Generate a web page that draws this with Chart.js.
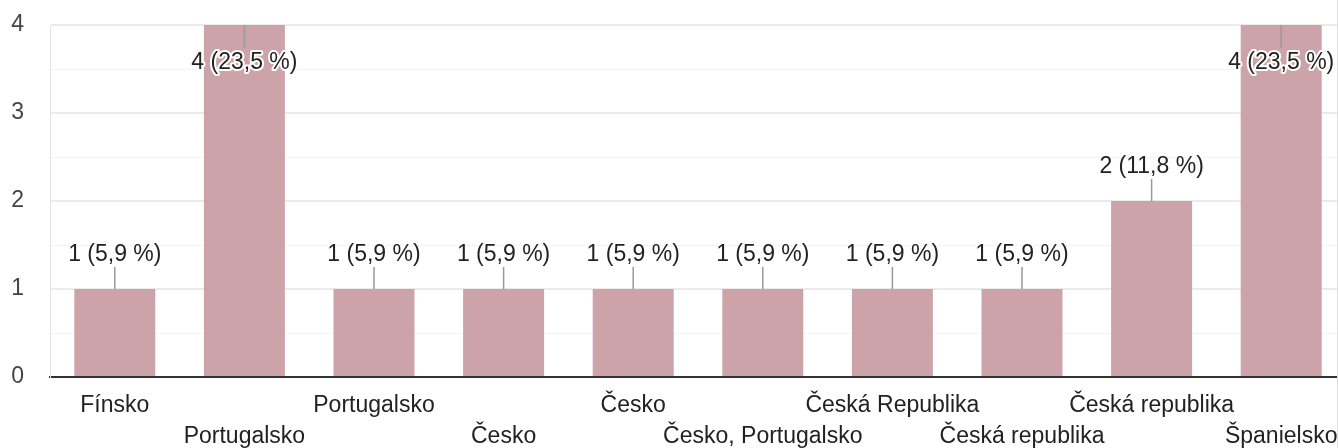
<!DOCTYPE html>
<html>
<head>
<meta charset="utf-8">
<script src="https://cdn.jsdelivr.net/npm/chart.js@4"></script>
<style>
  html, body { margin: 0; padding: 0; background: #fff; }
  #obal { width: 1338px; height: 448px; overflow: hidden; box-sizing: border-box; border-right: 1px solid #dedede; }
  canvas { display: block; }
</style>
</head>
<body>
<div id="obal">
  <canvas id="graf" width="1346" height="448"></canvas>
</div>
<script>
// --- Data ---
const krajiny = ["Fínsko", "Portugalsko", "Portugalsko", "Česko", "Česko", "Česko, Portugalsko",
  "Česká Republika", "Česká republika", "Česká republika", "Španielsko"];
const pocty = [1, 4, 1, 1, 1, 1, 1, 1, 2, 4];
const hodnotyY = [0, 1, 2, 3, 4];

const spolu = pocty.reduce((a, b) => a + b, 0);
const pismo = '"Liberation Sans", Arial, sans-serif';

// popisky nad stĺpcami, ako v Google Forms
const popisky = {
  id: 'popisky',
  afterDatasetsDraw(chart) {
    const ctx = chart.ctx;
    const meta = chart.getDatasetMeta(0);
    const hore = chart.chartArea.top;
    ctx.save();
    ctx.font = '23px ' + pismo;
    ctx.textAlign = 'center';
    ctx.textBaseline = 'middle';
    meta.data.forEach((bar, i) => {
      const v = pocty[i];
      const pct = (v / spolu * 100).toFixed(1).replace('.', ',');
      const text = `${v} (${pct} %)`;
      const vnutri = bar.y - 40 < hore;
      ctx.strokeStyle = '#999';
      ctx.lineWidth = 1.5;
      ctx.beginPath();
      if (vnutri) {
        ctx.moveTo(bar.x, bar.y);
        ctx.lineTo(bar.x, bar.y + 23);
      } else {
        ctx.moveTo(bar.x, bar.y);
        ctx.lineTo(bar.x, bar.y - 22);
      }
      ctx.stroke();
      const ty = vnutri ? bar.y + 38 : bar.y - 34;
      if (vnutri) {
        ctx.strokeStyle = '#fff';
        ctx.lineWidth = 4;
        ctx.lineJoin = 'round';
        ctx.strokeText(text, bar.x, ty);
      }
      ctx.fillStyle = '#222';
      ctx.fillText(text, bar.x, ty);
    });
    ctx.restore();
  }
};

new Chart(document.getElementById('graf'), {
  type: 'bar',
  data: {
    labels: krajiny,
    datasets: [{
      data: pocty,
      backgroundColor: '#cda3aa',
      barPercentage: 0.625,
      categoryPercentage: 1
    }]
  },
  options: {
    responsive: false,
    animation: false,
    layout: { padding: { top: 25, right: 0, bottom: 0, left: 0 } },
    plugins: {
      legend: { display: false },
      tooltip: { enabled: false }
    },
    scales: {
      x: {
        grid: { display: false },
        border: { color: '#333', width: 2 },
        ticks: {
          autoSkip: false,
          maxRotation: 0,
          padding: 5,
          color: '#222',
          font: { family: pismo, size: 23, lineHeight: '31px' },
          callback: (val, i) => i % 2 ? ['', krajiny[i]] : krajiny[i]
        },
        afterFit: s => { s.height = 71; s.paddingLeft = 0; s.paddingRight = 0; }
      },
      y: {
        min: 0,
        max: 4,
        border: { color: '#e4e4e4', width: 1 },
        grid: {
          drawTicks: false,
          color: c => Number.isInteger(c.tick.value) ? '#ebebeb' : '#f4f4f4',
          lineWidth: c => Number.isInteger(c.tick.value) ? 2 : 1
        },
        ticks: {
          stepSize: 0.5,
          padding: 26,
          color: '#444',
          font: { family: pismo, size: 23 },
          callback: v => hodnotyY.includes(v) ? String(v) : ''
        },
        afterFit: s => { s.width = 50; s.paddingTop = 0; s.paddingBottom = 0; }
      }
    }
  },
  plugins: [popisky]
});
</script>
</body>
</html>
